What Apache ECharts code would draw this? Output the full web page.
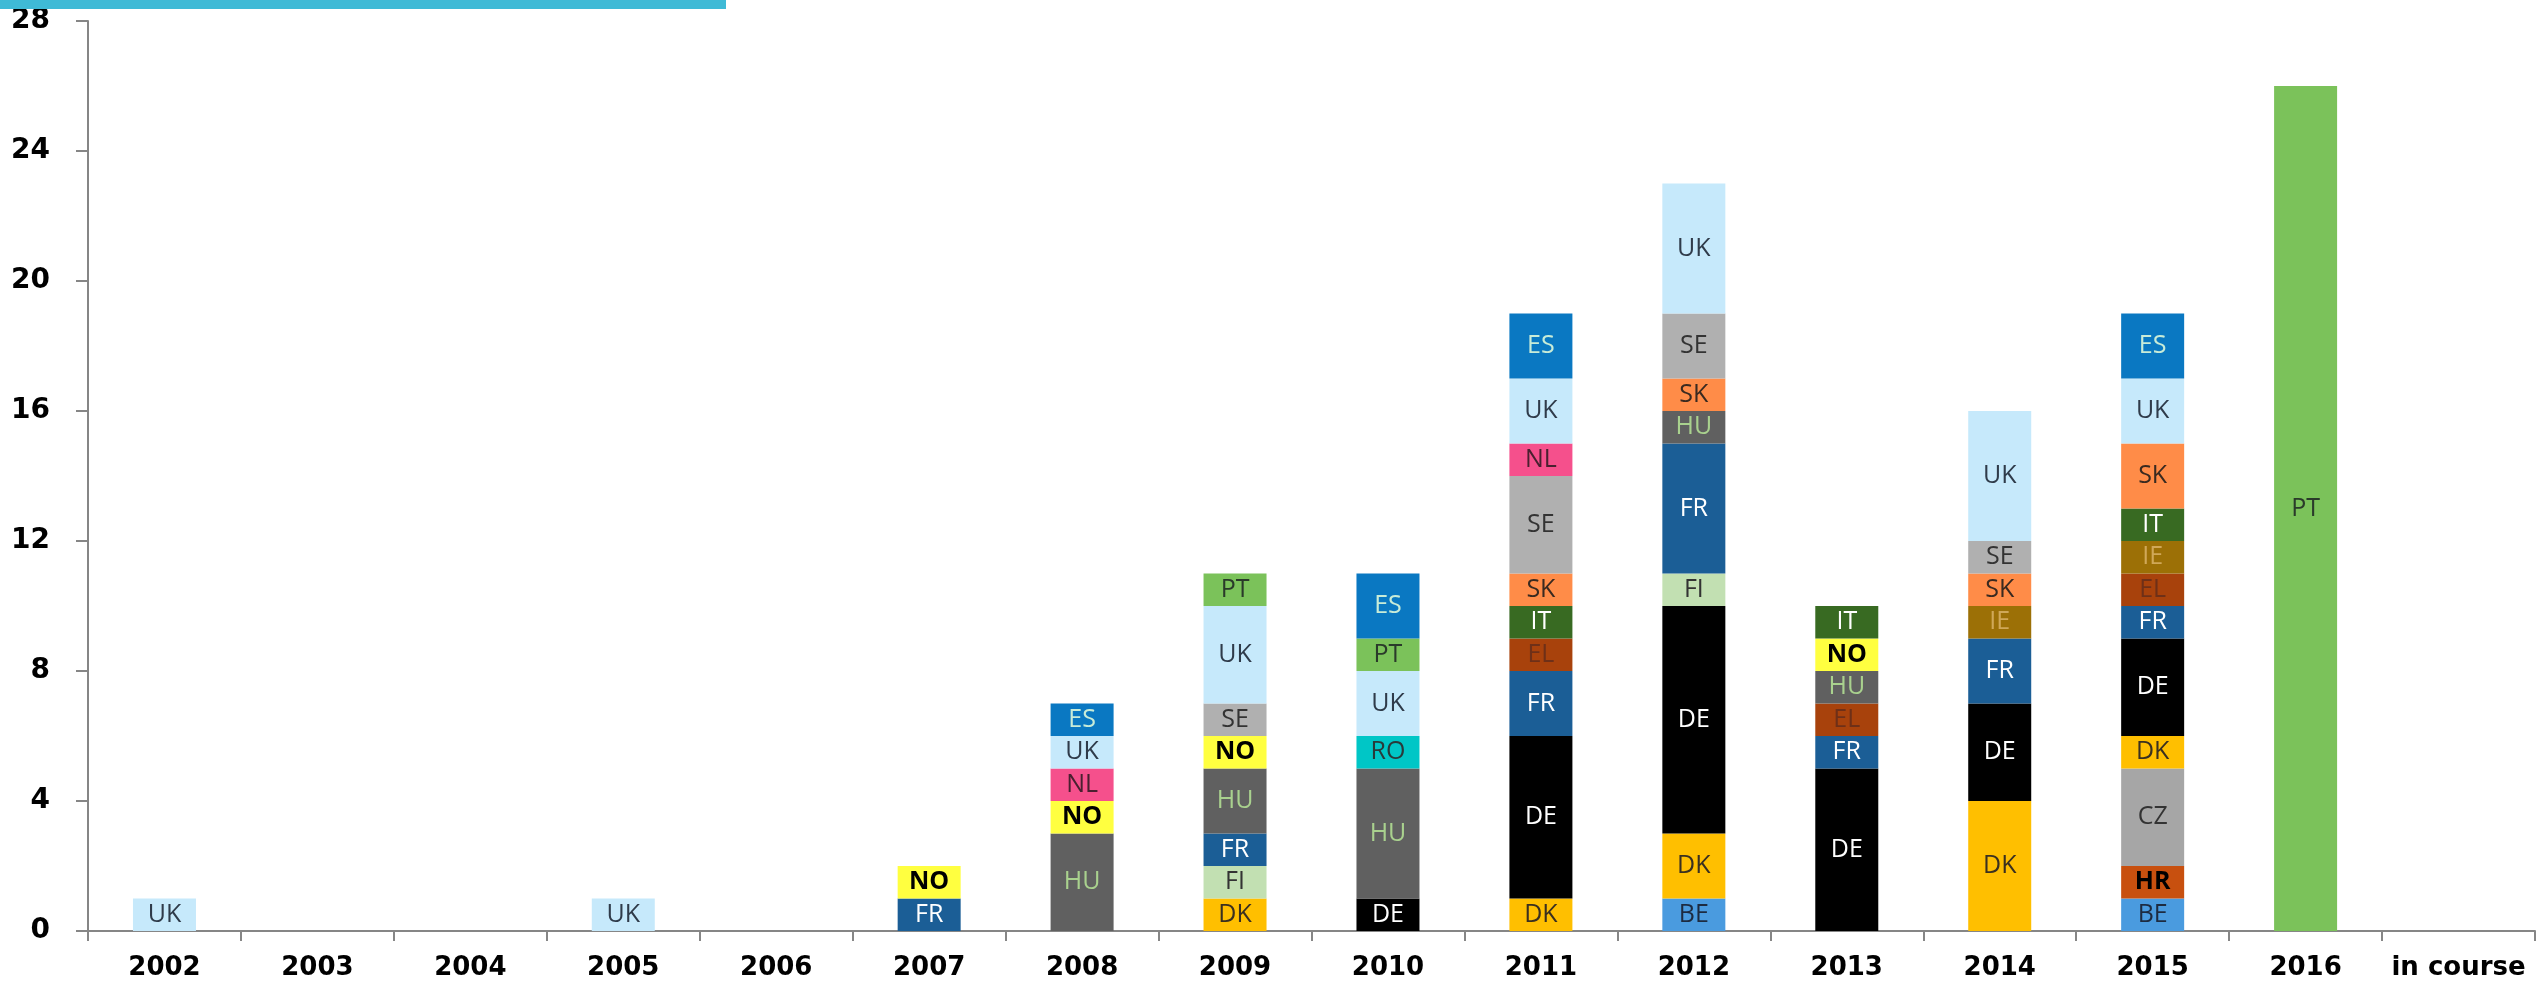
<!DOCTYPE html>
<html>
<head>
<meta charset="utf-8">
<script src="https://cdn.jsdelivr.net/npm/echarts@6/dist/echarts.min.js"></script>
<style>
html,body{margin:0;padding:0;background:#fff;}
#chart{width:2539px;height:983px;}
</style>
</head>
<body>
<div id="chart"></div>
<script>
// Categories (x axis)
const categories = ['2002','2003','2004','2005','2006','2007','2008','2009','2010','2011','2012','2013','2014','2015','2016','in course'];
// Y tick settings
const yMax = 28, yInterval = 4;

// Values per country, aligned with categories (null = absent). Stacking order bottom -> top.
const BE = [null,null,null,null,null,null,null,null,null,null,1,null,null,1,null,null];
const HR = [null,null,null,null,null,null,null,null,null,null,null,null,null,1,null,null];
const CZ = [null,null,null,null,null,null,null,null,null,null,null,null,null,3,null,null];
const DK = [null,null,null,null,null,null,null,1,null,1,2,null,4,1,null,null];
const DE = [null,null,null,null,null,null,null,null,1,5,7,5,3,3,null,null];
const FI = [null,null,null,null,null,null,null,1,null,null,1,null,null,null,null,null];
const FR = [null,null,null,null,null,1,null,1,null,2,4,1,2,1,null,null];
const EL = [null,null,null,null,null,null,null,null,null,1,null,1,null,1,null,null];
const HU = [null,null,null,null,null,null,3,2,4,null,1,1,null,null,null,null];
const NO = [null,null,null,null,null,1,1,1,null,null,null,1,null,null,null,null];
const IE = [null,null,null,null,null,null,null,null,null,null,null,null,1,1,null,null];
const IT = [null,null,null,null,null,null,null,null,null,1,null,1,null,1,null,null];
const RO = [null,null,null,null,null,null,null,null,1,null,null,null,null,null,null,null];
const SK = [null,null,null,null,null,null,null,null,null,1,1,null,1,2,null,null];
const SE = [null,null,null,null,null,null,null,1,null,3,2,null,1,null,null,null];
const NL = [null,null,null,null,null,null,1,null,null,1,null,null,null,null,null,null];
const UK = [1,null,null,1,null,null,1,3,2,2,4,null,4,2,null,null];
const PT = [null,null,null,null,null,null,null,1,1,null,null,null,null,null,26,null];
const ES = [null,null,null,null,null,null,1,null,2,2,null,null,null,2,null,null];

const countryNames = ['BE','HR','CZ','DK','DE','FI','FR','EL','HU','NO','IE','IT','RO','SK','SE','NL','UK','PT','ES'];
const countryValues = [BE,HR,CZ,DK,DE,FI,FR,EL,HU,NO,IE,IT,RO,SK,SE,NL,UK,PT,ES];

// Styles
const fillColors = {
  BE:'#4A9BDF', HR:'#C8500F', CZ:'#A6A6A6', DK:'#FFBF00', DE:'#000000', FI:'#C2E0B2',
  FR:'#1B5E96', EL:'#A8420C', HU:'#606060', NO:'#FFFF40', IE:'#9C7006', IT:'#386A22',
  RO:'#00C6C6', SK:'#FF8C48', SE:'#B0B0B0', NL:'#F5508C', UK:'#C6E9FB', PT:'#7BC25A', ES:'#0A78C2'
};
const textColors = {
  BE:'#1d2b40', HR:'#000000', CZ:'#333333', DK:'#3a3020', DE:'#ffffff', FI:'#333333',
  FR:'#ffffff', EL:'#6e3018', HU:'#A9D18E', NO:'#000000', IE:'#d0a858', IT:'#ffffff',
  RO:'#2a3a3a', SK:'#3a2a20', SE:'#333333', NL:'#4a2030', UK:'#2f3b4a', PT:'#2a3a2a', ES:'#c8ecd8'
};
const boldLabels = {NO:true, HR:true};

const series = countryNames.map((name, i) => ({
  name: name,
  type: 'bar',
  stack: 'total',
  barWidth: 63,
  data: countryValues[i],
  itemStyle: { color: fillColors[name] },
  label: {
    show: true,
    position: 'inside',
    formatter: '{a}',
    color: textColors[name],
    fontFamily: '"Open Sans", sans-serif',
    fontSize: 25,
    fontWeight: boldLabels[name] ? 'bold' : 'normal'
  },
  emphasis: { disabled: true }
}));

const chart = echarts.init(document.getElementById('chart'));
chart.setOption({
  animation: false,
  backgroundColor: '#ffffff',
  grid: { left: 88, right: 4, top: 21, bottom: 52, containLabel: false },
  xAxis: {
    type: 'category',
    data: categories,
    axisLine: { lineStyle: { color: '#868686', width: 2 } },
    axisTick: { show: true, alignWithLabel: false, length: 10, lineStyle: { color: '#868686', width: 2 } },
    axisLabel: { color: '#000', fontWeight: 'bold', fontFamily: '"DejaVu Sans", Verdana, sans-serif', fontSize: 26, margin: 24, interval: 0 }
  },
  yAxis: {
    type: 'value',
    min: 0, max: yMax, interval: yInterval,
    splitLine: { show: false },
    axisLine: { show: true, lineStyle: { color: '#868686', width: 2 } },
    axisTick: { show: true, length: 12, lineStyle: { color: '#868686', width: 2 } },
    axisLabel: { color: '#000', fontWeight: 'bold', fontFamily: '"DejaVu Sans", Verdana, sans-serif', fontSize: 28, margin: 38 }
  },
  graphic: [{
    type: 'rect',
    left: 0, top: 0,
    shape: { width: 726, height: 9 },
    style: { fill: '#3FBAD6' },
    z: 100
  }],
  series: series
});
</script>
</body>
</html>
